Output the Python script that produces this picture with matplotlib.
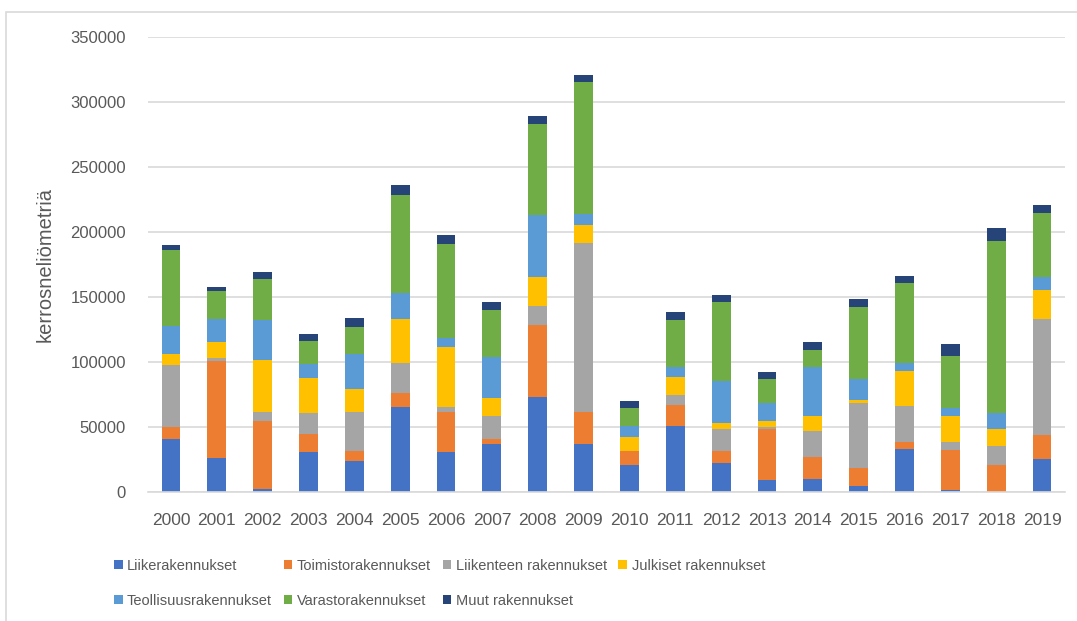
import matplotlib
matplotlib.use("Agg")
import matplotlib.pyplot as plt
from matplotlib.patches import Rectangle
import numpy as np

# ---------------------------------------------------------------------------
# data (kerrosneliömetriä per building type)
# ---------------------------------------------------------------------------
years = [str(y) for y in range(2000, 2020)]

liike = [41000, 26000, 2000, 30500, 24100, 65600, 30500, 37200, 72800, 36700,
         21000, 51000, 22000, 9000, 10300, 4400, 33300, 1800, 0, 25400]
toimisto = [9000, 74500, 52600, 14400, 7400, 10600, 31000, 3600, 55900, 24800,
            10500, 15900, 9300, 39500, 16900, 14100, 5200, 30800, 21000, 18200]
liikenne = [48000, 2500, 6900, 15600, 29800, 23000, 3900, 17900, 14100, 130000,
            0, 7500, 17400, 1500, 19700, 50000, 27400, 5900, 14100, 89500]
julkiset = [8500, 12400, 39800, 27400, 17700, 33600, 45900, 13300, 22300, 13600,
            10500, 14100, 4100, 4400, 11800, 2500, 27400, 20200, 13600, 22500]
teollisuus = [21000, 17400, 30700, 10800, 27400, 20500, 7400, 31600, 48200, 8500,
              9000, 7700, 32600, 14100, 37500, 15700, 5900, 5700, 12100, 9800]
varasto = [59000, 21600, 31600, 17400, 20500, 74900, 72300, 36700, 70000, 101800,
           13400, 36400, 60500, 18400, 13000, 55600, 61300, 40000, 132300, 49200]
muut = [3500, 3600, 5900, 5700, 6700, 7700, 6700, 5800, 5700, 5100,
        5900, 5900, 5600, 5700, 5900, 6200, 5400, 9700, 10000, 5900]

series = [
    ("Liikerakennukset", liike, "#4472C4"),
    ("Toimistorakennukset", toimisto, "#ED7D31"),
    ("Liikenteen rakennukset", liikenne, "#A5A5A5"),
    ("Julkiset rakennukset", julkiset, "#FFC000"),
    ("Teollisuusrakennukset", teollisuus, "#5B9BD5"),
    ("Varastorakennukset", varasto, "#70AD47"),
    ("Muut rakennukset", muut, "#264478"),
]

# ---------------------------------------------------------------------------
plt.rcParams["font.family"] = ["Liberation Sans", "DejaVu Sans"]
text_col = "#595959"
grid_col = "#D9D9D9"

fig = plt.figure(figsize=(10.77, 6.21), dpi=100)
ax = fig.add_axes([148 / 1077, 1 - 492 / 621, 917 / 1077, 455 / 621])

x = np.arange(len(years))
bottom = np.zeros(len(years))
handles = []
for name, vals, col in series:
    v = np.array(vals, dtype=float)
    h = ax.bar(x, v, width=0.41, bottom=bottom, color=col, label=name,
               linewidth=0)
    handles.append(h)
    bottom += v

ax.set_xlim(-0.5, len(years) - 0.5)
ax.set_ylim(0, 350000)
ax.set_yticks(np.arange(0, 350001, 50000))
ax.set_yticklabels([str(v) for v in range(0, 350001, 50000)])
ax.set_xticks(x)
ax.set_xticklabels(years)

ax.yaxis.grid(True, color=grid_col, linewidth=1.2)
ax.set_axisbelow(True)
for s in ("top", "right", "left"):
    ax.spines[s].set_visible(False)
ax.spines["bottom"].set_color(grid_col)
ax.spines["bottom"].set_linewidth(1.2)

ax.tick_params(axis="y", length=0, pad=16, labelsize=12, labelcolor=text_col)
ax.tick_params(axis="x", length=0, pad=15, labelsize=12.5, labelcolor=text_col)
ax.set_ylabel("kerrosneliömetriä", fontsize=14.5, color=text_col, labelpad=11)

# legend: matplotlib fills columns first, reorder so rows read like the original
order = [0, 4, 1, 5, 2, 6, 3]
leg = fig.legend([handles[i] for i in order], [series[i][0] for i in order],
                 loc="upper left", bbox_to_anchor=(108 / 1077, 1 - 553 / 621),
                 ncol=4, frameon=False, handlelength=0.6, handleheight=0.6,
                 handletextpad=0.3, columnspacing=0.8, labelspacing=1.45,
                 borderaxespad=0, prop={"size": 10.5})
for t in leg.get_texts():
    t.set_color(text_col)

# thin frame around the chart area
fig.patches.append(Rectangle((6 / 1077, -0.01), 1.1, 1 - 12 / 621 + 0.01,
                             transform=fig.transFigure, fill=False,
                             edgecolor=grid_col, linewidth=1.2))

fig.savefig("out.png", dpi=100)
